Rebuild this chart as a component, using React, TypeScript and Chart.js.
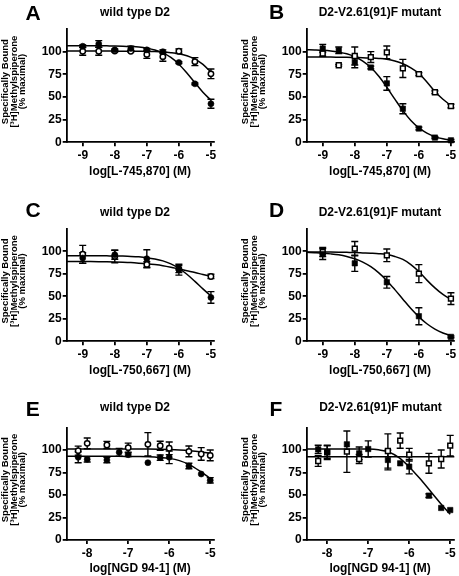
import React, { useEffect, useRef } from "react";
import { Chart, registerables } from "chart.js";
Chart.register(...registerables);

const FONT = '"Liberation Sans", Arial, Helvetica, sans-serif';

// ---------- x positions (log M) ----------
const xNine = [-9, -8.5, -8, -7.5, -7, -6.5, -6, -5.5, -5];
const xFive = [-9, -8, -7, -6, -5];
const xNGD = [-8.22, -8, -7.52, -7.22, -7, -6.52, -6.22, -6, -5.52, -5.22, -5];
const fitX9 = [-9.5, -9.25, -9, -8.75, -8.5, -8.25, -8, -7.75, -7.5, -7.25, -7, -6.75, -6.5, -6.25, -6, -5.75, -5.5, -5.25, -5];
const fitX8 = [-8.5, -8.25, -8, -7.75, -7.5, -7.25, -7, -6.75, -6.5, -6.25, -6, -5.75, -5.5, -5.25, -5];
const tickX9 = [-9, -8, -7, -6, -5];
const tickX8 = [-8, -7, -6, -5];
const tickY = [0, 25, 50, 75, 100];

// ---------- Panel A: L-745,870, wild type ----------
const aFilled = [106, 108.5, 102, 103.5, 102, 100, 88, 64.5, 42.5];
const aFilledErr = [1.5, 3.7, 1, 2.5, 1.5, 2, 1, 1, 5];
const aOpen = [100.5, 100.5, 100.7, 100.5, 97, 94.5, 100.5, 89, 75.5];
const aOpenErr = [4.4, 4.4, 1, 1, 4.4, 5, 2.6, 4.4, 5.3];
const aFilledFit = [106.6, 106.6, 106.6, 106.5, 106.5, 106.4, 106.3, 106.1, 105.7, 105.1, 103.9, 101.9, 98.7, 93.6, 86.2, 76.5, 65.7, 55.2, 46.5];
const aOpenFit = [100.6, 100.6, 100.6, 100.6, 100.6, 100.6, 100.6, 100.5, 100.5, 100.4, 100.3, 100.1, 99.7, 98.9, 97.7, 95.5, 91.8, 86.0, 77.3];

// ---------- Panel B: L-745,870, mutant ----------
const bFilled = [103.5, 101.5, 88.5, 82.5, 65, 37, 15.2, 5.2, 2.2];
const bFilledErr = [4.5, 3.7, 6.3, 1.5, 7.5, 5.5, 1.5, 1, 1];
const bOpen = [98, 85, 95.2, 94, 99.3, 81.5, 75.2, 55.2, 40];
const bOpenErr = [3, 1, 10, 6, 7, 10, 1.5, 1.5, 2];
const bFilledFit = [102.2, 101.9, 101.5, 100.8, 99.5, 97.6, 94.4, 89.6, 82.5, 72.8, 60.7, 47.6, 34.9, 24.1, 15.9, 10.1, 6.3, 3.8, 2.3];
const bOpenFit = [94.1, 94.1, 94.0, 94.0, 93.9, 93.8, 93.6, 93.4, 93.0, 92.5, 91.7, 89.8, 86.7, 82.2, 76, 66.5, 56, 47.5, 40.5];

// ---------- Panel C: L-750,667, wild type ----------
const cFilled = [92.6, 96.3, 91.8, 79.6, 48.7];
const cFilledErr = [6, 5, 10, 6, 6.5];
const cOpen = [96.7, 94.4, 85.5, 80.3, 72.1];
const cOpenErr = [10, 7, 3, 4, 2.5];
const cFilledFit = [95.2, 95.2, 95.2, 95.2, 95.1, 95.0, 94.9, 94.7, 94.4, 93.9, 93.0, 91.6, 89.4, 86.0, 81.1, 74.5, 66.6, 58.2, 50.4];
const cOpenFit = [88.8, 88.8, 88.7, 88.6, 88.5, 88.4, 88.2, 87.9, 87.5, 86.9, 86.2, 85.3, 84.1, 82.4, 80.4, 78.4, 76.5, 74.2, 72.1];

// ---------- Panel D: L-750,667, mutant ----------
const dFilled = [97, 86.7, 65.6, 27.8, 4.8];
const dFilledErr = [6, 9, 6.5, 9.5, 1];
const dOpen = [99.3, 103, 95.6, 75.2, 47.4];
const dOpenErr = [5, 8, 7, 10, 6.5];
const dFilledFit = [98.9, 98.5, 98.0, 97.2, 96.1, 94.3, 91.7, 88.0, 82.9, 76.0, 67.4, 57.4, 46.8, 36.3, 27.1, 19.4, 13.5, 9.2, 6.2];
const dOpenFit = [99.3, 99.3, 99.2, 99.2, 99.1, 98.9, 98.7, 98.3, 97.9, 97.4, 96.5, 94.3, 91, 85.3, 77.5, 68, 59.3, 52, 46.5];

// ---------- Panel E: NGD 94-1, wild type ----------
const eFilled = [91.9, 89.6, 88.9, 97.4, 94.8, 85.9, 91.5, 91.9, 82.2, 73.3, 66.3];
const eFilledErr = [6, 3, 3, 4.4, 2, 0, 3, 7, 3, 0, 3];
const eOpen = [99.3, 107.4, 105.6, null, 102.6, 106.3, 104.8, 101.9, 98.5, 95.6, 94];
const eOpenErr = [5, 6, 4, 0, 5, 13, 5, 7, 6, 7, 6];
const eFilledFit = [93.1, 93.1, 93.1, 93.1, 93.0, 93.0, 92.9, 92.7, 92.4, 91.8, 90.7, 88.2, 83.5, 76.5, 68.5];
const eOpenFit = [101.2, 101.2, 101.2, 101.2, 101.2, 101.2, 101.1, 101.1, 101.0, 100.8, 100.5, 100.0, 99.2, 98.0, 96.2];

// ---------- Panel F: NGD 94-1, mutant ----------
const fFilled = [100.7, 97.8, 106.3, 96.3, 101.1, 88.9, 85.2, 81.5, 49.3, 35.6, 33.3];
const fFilledErr = [4.6, 7, 0, 7, 9, 11, 0, 8, 2, 0, 0];
const fOpen = [87.8, 97.4, 98.1, 90, null, 98.9, 110.4, 94.8, 85.2, 90, 104.8];
const fOpenErr = [6, 8, 23, 5, 0, 19, 8.5, 7, 11, 10, 11.5];
const fFilledFit = [101.2, 101.2, 101.2, 101.2, 101.2, 101.1, 101, 100.2, 97.8, 91.5, 81.2, 68.8, 55.2, 41.5, 28.5];
const fOpenFitX = [-8.5, -4.9];
const fOpenFit = [92.6, 92.6];

// ---------- text ----------
const yTitleLines = ["Specifically Bound", "[\u00B3H]Methylspiperone", "(% maximal)"];
const titleWT = "wild type D2";
const titleMut = "D2-V2.61(91)F mutant";

// ---------- layout ----------
const ROWS = [
  { canvasTop: 0, canvasH: 190, chartTop: 29, chartBottom: 142.3 },
  { canvasTop: 190, canvasH: 190, chartTop: 228.9, chartBottom: 341.2 },
  { canvasTop: 380, canvasH: 196, chartTop: 427.5, chartBottom: 540 },
];
const COLS = [
  { canvasLeft: 0, chartRight: 215.5 },
  { canvasLeft: 240, chartRight: 456.3 },
];
const CANVAS_W = 219;
const YAXIS_W = 66.7;

const zip = (xs: number[], ys: (number | null)[]) =>
  xs.map((x, i) => ({ x, y: ys[i] })).filter((p) => p.y !== null && p.y !== undefined);

type PanelDef = {
  row: number;
  col: number;
  xMin: number;
  xTicks: number[];
  xTitle: string;
  fits: { x: number[]; y: number[] }[];
  points: { x: number[]; y: (number | null)[]; err: number[]; filled: boolean; shape: "circle" | "rect" }[];
};

const PANELS: PanelDef[] = [
  {
    row: 0, col: 0, xMin: -9.5, xTicks: tickX9, xTitle: "log[L-745,870] (M)",
    fits: [{ x: fitX9, y: aFilledFit }, { x: fitX9, y: aOpenFit }],
    points: [
      { x: xNine, y: aOpen, err: aOpenErr, filled: false, shape: "circle" },
      { x: xNine, y: aFilled, err: aFilledErr, filled: true, shape: "circle" },
    ],
  },
  {
    row: 0, col: 1, xMin: -9.5, xTicks: tickX9, xTitle: "log[L-745,870] (M)",
    fits: [{ x: fitX9, y: bFilledFit }, { x: fitX9, y: bOpenFit }],
    points: [
      { x: xNine, y: bOpen, err: bOpenErr, filled: false, shape: "rect" },
      { x: xNine, y: bFilled, err: bFilledErr, filled: true, shape: "rect" },
    ],
  },
  {
    row: 1, col: 0, xMin: -9.5, xTicks: tickX9, xTitle: "log[L-750,667] (M)",
    fits: [{ x: fitX9, y: cFilledFit }, { x: fitX9, y: cOpenFit }],
    points: [
      { x: xFive, y: cOpen, err: cOpenErr, filled: false, shape: "circle" },
      { x: xFive, y: cFilled, err: cFilledErr, filled: true, shape: "circle" },
    ],
  },
  {
    row: 1, col: 1, xMin: -9.5, xTicks: tickX9, xTitle: "log[L-750,667] (M)",
    fits: [{ x: fitX9, y: dFilledFit }, { x: fitX9, y: dOpenFit }],
    points: [
      { x: xFive, y: dOpen, err: dOpenErr, filled: false, shape: "rect" },
      { x: xFive, y: dFilled, err: dFilledErr, filled: true, shape: "rect" },
    ],
  },
  {
    row: 2, col: 0, xMin: -8.5, xTicks: tickX8, xTitle: "log[NGD 94-1] (M)",
    fits: [{ x: fitX8, y: eFilledFit }, { x: fitX8, y: eOpenFit }],
    points: [
      { x: xNGD, y: eOpen, err: eOpenErr, filled: false, shape: "circle" },
      { x: xNGD, y: eFilled, err: eFilledErr, filled: true, shape: "circle" },
    ],
  },
  {
    row: 2, col: 1, xMin: -8.5, xTicks: tickX8, xTitle: "log[NGD 94-1] (M)",
    fits: [{ x: fitX8, y: fFilledFit }, { x: fOpenFitX, y: fOpenFit }],
    points: [
      { x: xNGD, y: fOpen, err: fOpenErr, filled: false, shape: "rect" },
      { x: xNGD, y: fFilled, err: fFilledErr, filled: true, shape: "rect" },
    ],
  },
];

const errorBarPlugin = {
  id: "errbars",
  beforeDatasetsDraw(chart: any) {
    const ctx = chart.ctx;
    const xs = chart.scales.x;
    const ys = chart.scales.y;
    ctx.save();
    ctx.strokeStyle = "#000";
    ctx.lineWidth = 1.4;
    chart.data.datasets.forEach((ds: any) => {
      if (!ds.errs) return;
      ds.data.forEach((p: any, i: number) => {
        const e = ds.errs[i];
        if (!e) return;
        const px = xs.getPixelForValue(p.x);
        const yT = ys.getPixelForValue(p.y + e);
        const yB = ys.getPixelForValue(p.y - e);
        ctx.beginPath();
        ctx.moveTo(px, yT);
        ctx.lineTo(px, yB);
        ctx.moveTo(px - 3.5, yT);
        ctx.lineTo(px + 3.5, yT);
        ctx.moveTo(px - 3.5, yB);
        ctx.lineTo(px + 3.5, yB);
        ctx.stroke();
      });
    });
    ctx.restore();
  },
};

const yTitlePlugin = {
  id: "ytitle",
  afterDraw(chart: any) {
    const ctx = chart.ctx;
    const { chartArea } = chart;
    const yc = (chartArea.top + chartArea.bottom) / 2 - 4;
    ctx.save();
    ctx.fillStyle = "#000";
    ctx.font = `bold 9.5px ${FONT}`;
    ctx.textAlign = "center";
    ctx.textBaseline = "middle";
    const xsPos = [5.2, 13.9, 22];
    yTitleLines.forEach((line, i) => {
      ctx.save();
      ctx.translate(xsPos[i], yc);
      ctx.rotate(-Math.PI / 2);
      ctx.fillText(line, 0, 0);
      ctx.restore();
    });
    ctx.restore();
  },
};

function Panel({ def }: { def: PanelDef }) {
  const ref = useRef<HTMLCanvasElement>(null);
  const row = ROWS[def.row];
  const col = COLS[def.col];
  useEffect(() => {
    const padTop = row.chartTop - row.canvasTop;
    const padRight = col.canvasLeft + CANVAS_W - col.chartRight;
    const xH = row.canvasTop + row.canvasH - row.chartBottom;
    const titleCenterRel = row.chartBottom + 29 - row.canvasTop;
    const titlePadBottom = Math.max(0, row.canvasH - titleCenterRel - 7.2);
    const tickFont = { family: FONT, size: 12, weight: "bold" as const };

    const datasets: any[] = [];
    def.fits.forEach((f) => {
      datasets.push({
        data: zip(f.x, f.y),
        showLine: true,
        pointRadius: 0,
        borderColor: "#000",
        borderWidth: 1.5,
        cubicInterpolationMode: "monotone",
        fill: false,
        order: 3,
        clip: false,
      });
    });
    def.points.forEach((p) => {
      const isRect = p.shape === "rect";
      const pts = zip(p.x, p.y);
      const errs = p.x.map((_, i) => p.err[i]).filter((_, i) => p.y[i] !== null);
      datasets.push({
        data: pts,
        errs,
        showLine: false,
        pointStyle: p.shape,
        pointRadius: p.filled ? (isRect ? 3.8 : 3) : isRect ? 3.4 : 2.7,
        pointBackgroundColor: p.filled ? "#000" : "#fff",
        pointBorderColor: "#000",
        pointBorderWidth: p.filled ? 0.6 : 1.5,
        backgroundColor: p.filled ? "#000" : "#fff",
        borderColor: "#000",
        order: p.filled ? 1 : 2,
        clip: false,
      });
    });

    const chart = new Chart(ref.current!, {
      type: "scatter",
      data: { datasets },
      options: {
        animation: false,
        responsive: false,
        events: [],
        layout: { padding: { left: 0, top: padTop, right: padRight, bottom: 0 } },
        plugins: {
          legend: { display: false },
          tooltip: { enabled: false },
        },
        scales: {
          x: {
            type: "linear",
            min: def.xMin,
            max: -4.92,
            afterBuildTicks: (s: any) => {
              s.ticks = def.xTicks.map((v) => ({ value: v }));
            },
            afterFit: (s: any) => {
              s.height = xH;
            },
            ticks: {
              font: tickFont,
              color: "#000",
              padding: 2,
              maxRotation: 0,
              autoSkip: false,
              callback: (v: any) => String(v),
            },
            grid: {
              display: true,
              drawOnChartArea: false,
              drawTicks: true,
              tickLength: 4,
              color: "#000",
              lineWidth: 1.8,
            },
            border: { display: true, color: "#000", width: 1.8 },
            title: {
              display: true,
              text: def.xTitle,
              color: "#000",
              font: { family: FONT, size: 12, weight: "bold", lineHeight: 1.2 },
              padding: { top: 0, bottom: titlePadBottom },
            },
          },
          y: {
            type: "linear",
            min: 0,
            max: 125,
            afterBuildTicks: (s: any) => {
              s.ticks = tickY.map((v) => ({ value: v }));
            },
            afterFit: (s: any) => {
              s.width = YAXIS_W;
            },
            ticks: {
              font: tickFont,
              color: "#000",
              padding: 1,
              callback: (v: any) => String(v),
            },
            grid: {
              display: true,
              drawOnChartArea: false,
              drawTicks: true,
              tickLength: 4,
              color: "#000",
              lineWidth: 1.8,
            },
            border: { display: true, color: "#000", width: 1.8 },
          },
        },
      } as any,
      plugins: [errorBarPlugin, yTitlePlugin],
    });
    return () => chart.destroy();
  }, []);
  return (
    <canvas
      ref={ref}
      width={CANVAS_W}
      height={row.canvasH}
      style={{ position: "absolute", left: col.canvasLeft, top: row.canvasTop, width: CANVAS_W, height: row.canvasH }}
    />
  );
}

const LABELS = [
  { t: "A", x: 33, y: 11.5 },
  { t: "B", x: 276.5, y: 11.3 },
  { t: "C", x: 33, y: 208.5 },
  { t: "D", x: 276.5, y: 208.8 },
  { t: "E", x: 32.7, y: 408 },
  { t: "F", x: 276, y: 408 },
];
const TITLES = [
  { t: titleWT, x: 135, y: 11.7 },
  { t: titleMut, x: 380, y: 11.7 },
  { t: titleWT, x: 135, y: 211.7 },
  { t: titleMut, x: 380, y: 211.7 },
  { t: titleWT, x: 135, y: 406.7 },
  { t: titleMut, x: 380.5, y: 407.3 },
];

export default function App() {
  const textStyle = (x: number, y: number, size: number): React.CSSProperties => ({
    position: "absolute",
    left: x,
    top: y,
    transform: "translate(-50%, -50%)",
    fontFamily: FONT,
    fontWeight: "bold",
    fontSize: size,
    lineHeight: 1,
    whiteSpace: "nowrap",
    color: "#000",
  });
  return (
    <div
      style={{
        position: "fixed",
        left: 0,
        top: 0,
        width: 459,
        height: 576,
        overflow: "hidden",
        background: "#fff",
      }}
    >
      {PANELS.map((p, i) => (
        <Panel key={i} def={p} />
      ))}
      {LABELS.map((l) => (
        <div key={l.t} style={textStyle(l.x, l.y, 21)}>
          {l.t}
        </div>
      ))}
      {TITLES.map((t, i) => (
        <div key={i} style={textStyle(t.x, t.y, 12)}>
          {t.t}
        </div>
      ))}
    </div>
  );
}
